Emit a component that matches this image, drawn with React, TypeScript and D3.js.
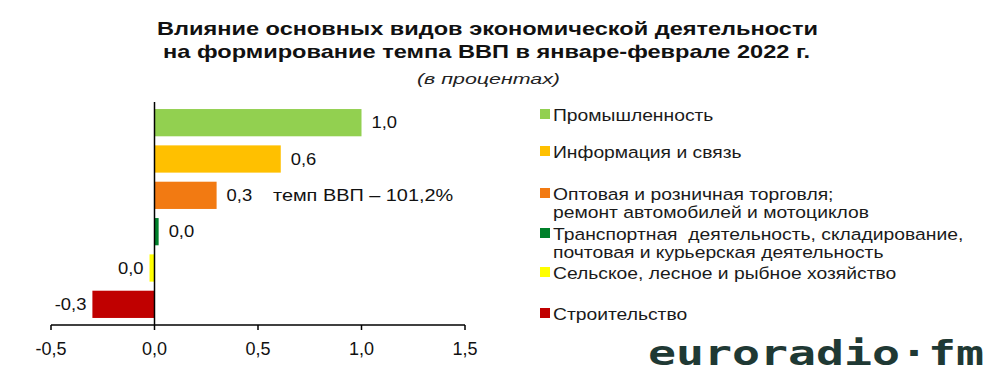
import React from "react";
import * as d3 from "d3";

const categories = [
  "Промышленность",
  "Информация и связь",
  "Оптовая и розничная торговля; ремонт автомобилей и мотоциклов",
  "Транспортная деятельность, складирование, почтовая и курьерская деятельность",
  "Сельское, лесное и рыбное хозяйство",
  "Строительство",
];
const legendLines = [
  ["Промышленность"],
  ["Информация и связь"],
  ["Оптовая и розничная торговля;", "ремонт автомобилей и мотоциклов"],
  ["Транспортная  деятельность, складирование,", "почтовая и курьерская деятельность"],
  ["Сельское, лесное и рыбное хозяйство"],
  ["Строительство"],
];
const values = [1.0, 0.61, 0.3, 0.02, -0.024, -0.3];
const valueLabels = ["1,0", "0,6", "0,3", "0,0", "0,0", "-0,3"];
const colors = ["#92d050", "#ffc000", "#f27a12", "#00802a", "#ffff00", "#c00000"];
const tickValues = [-0.5, 0, 0.5, 1.0, 1.5];
const tickLabels = ["-0,5", "0,0", "0,5", "1,0", "1,5"];
const legendBaselines = [121, 158, 200, 240, 279, 320];
const titleLines = [
  "Влияние основных видов экономической деятельности",
  "на формирование темпа ВВП в январе-феврале 2022 г.",
];
const subtitle = "(в процентах)";
const gdpNote = "темп ВВП – 101,2%";

function SText(props: {
  x: number; y: number; sx: number; size: number; anchor?: string; dy?: string;
  children: React.ReactNode; fill?: string; weight?: string; italic?: boolean;
}) {
  const { x, y, sx, size, anchor, dy, children, fill, weight, italic } = props;
  return (
    <text
      transform={`translate(${x},${y}) scale(${sx},1)`}
      textAnchor={anchor || "start"}
      dy={dy}
      fontSize={size}
      fill={fill || "#111"}
      fontWeight={weight}
      fontStyle={italic ? "italic" : undefined}
      style={{ whiteSpace: "pre" }}
    >
      {children}
    </text>
  );
}

export default function App() {
  const W = 1000, H = 382;
  const x = d3.scaleLinear().domain([-0.5, 1.5]).range([51, 465]);
  const y = d3.scaleBand<string>().domain(categories).range([104.5, 322.5]).paddingInner(0.25).paddingOuter(0.125);
  const axisY = 325;
  const font = "'Liberation Sans', Arial, sans-serif";
  const x0 = x(0);
  return (
    <svg width={W} height={H} style={{ position: "absolute", left: 0, top: 0, background: "#fff" }} fontFamily={font}>
      <rect width={W} height={H} fill="#fff" />
      <text x={157} y={35} fontSize={19} fontWeight="bold" fill="#111" textLength={661} lengthAdjust="spacingAndGlyphs">
        {titleLines[0]}
      </text>
      <text x={163} y={58} fontSize={19} fontWeight="bold" fill="#111" textLength={647} lengthAdjust="spacingAndGlyphs">
        {titleLines[1]}
      </text>
      <text x={417} y={84} fontSize={15.5} fontStyle="italic" fill="#222" textLength={143} lengthAdjust="spacingAndGlyphs">
        {subtitle}
      </text>

      {categories.map((c, i) => {
        const v = values[i];
        const bx = Math.min(x(v), x0);
        const bw = Math.abs(x(v) - x0);
        const yy = y(c)!;
        const h = y.bandwidth();
        const pos = v >= 0;
        return (
          <g key={c}>
            <rect x={bx} y={yy} width={bw} height={h} fill={colors[i]} />
            <SText
              x={pos ? x(v) + 10 : x(v) - 6}
              y={yy + h / 2}
              dy="0.35em"
              anchor={pos ? "start" : "end"}
              size={16}
              sx={1.15}
            >
              {valueLabels[i]}
            </SText>
          </g>
        );
      })}
      <SText x={273} y={y(categories[2])! + y.bandwidth() / 2} dy="0.35em" size={16.3} sx={1.22}>
        {gdpNote}
      </SText>

      <line x1={x0} x2={x0} y1={102} y2={axisY} stroke="#000" strokeWidth={1.5} />
      <line x1={x(-0.5)} x2={x(1.5)} y1={axisY} y2={axisY} stroke="#000" strokeWidth={1.5} />
      {tickValues.map((t, i) => (
        <g key={t}>
          <line x1={x(t)} x2={x(t)} y1={axisY} y2={axisY + 5} stroke="#000" strokeWidth={1.5} />
          <text x={x(t)} y={355} textAnchor="middle" fontSize={18} fill="#111">
            {tickLabels[i]}
          </text>
        </g>
      ))}

      {legendLines.map((lines, i) => (
        <g key={i}>
          <rect x={540} y={legendBaselines[i] - 12} width={10} height={10} fill={colors[i]} />
          {lines.map((ln, j) => (
            <SText key={j} x={553} y={legendBaselines[i] + j * 18} size={16.5} sx={1.17} fill="#1a1a1a">
              {ln}
            </SText>
          ))}
        </g>
      ))}

      <text x={648} y={365} fontSize={34} fontWeight="bold" fontFamily="'DejaVu Sans Mono', monospace" fill="#1f3934" textLength={336} lengthAdjust="spacingAndGlyphs">
        euroradio·fm
      </text>
    </svg>
  );
}
